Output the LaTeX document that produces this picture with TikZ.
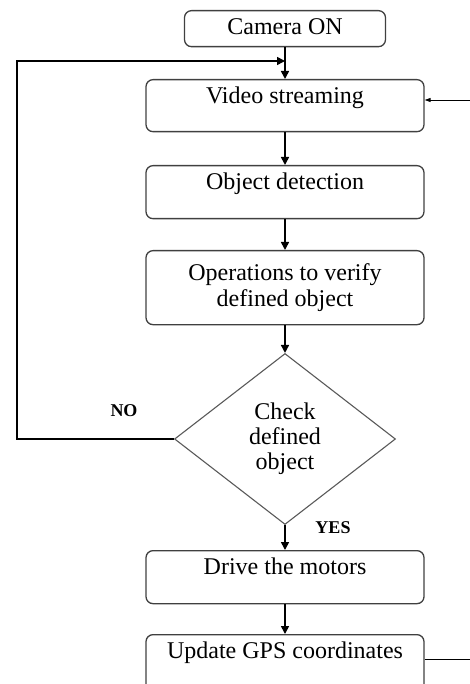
\documentclass[tikz,border=0pt]{standalone}
\usepackage{fontspec}
\setmainfont{Liberation Serif}
\usetikzlibrary{shapes.geometric, arrows.meta, positioning}

\tikzset{
  flowbox/.style={draw=black!75, line width=1.3pt, rounded corners=7pt, minimum width=278pt,
    inner xsep=0pt, inner ysep=3pt, font=\fontsize{24}{26}\selectfont, anchor=north},
  topbox/.style={flowbox, text height=21pt, text depth=#1},
  checkbox/.style={draw=black!65, line width=1.1pt, diamond, minimum width=221pt, minimum height=171pt,
    inner sep=0pt, align=center, font=\fontsize{24}{25}\selectfont},
  flow/.style={line width=1.6pt, -{Triangle[length=8pt,width=8pt]}},
  feed/.style={line width=0.9pt},
  tag/.style={font=\bfseries\fontsize{18}{20}\selectfont}
}

\begin{document}
\begin{tikzpicture}[x=1pt, y=-1pt]
    \clip (0,0) rectangle (470,684);

    % boxes
    \node[topbox=9pt, minimum width=201pt] (camera) at (285,10) {Camera ON};
    \node[topbox=25pt] (video) at (285,79) {Video streaming};
    \node[topbox=26pt] (detect) at (285,165) {Object detection};
    \node[flowbox, minimum height=74pt, align=center] (verify) at (285,250) {Operations to verify\\defined object};
    \node[checkbox] (check) at (285,439) {Check\\defined\\object};
    \node[topbox=26pt] (motors) at (285,550) {Drive the motors};
    \node[topbox=33pt] (gps) at (285,634) {Update GPS coordinates};

    % labels
    \node[tag] (no) at (124,411) {NO};
    \node[tag] (yes) at (333,528) {YES};

    % main flow
    \draw[flow] (camera) -- (video);
    \draw[flow] (video) -- (detect);
    \draw[flow] (detect) -- (verify);
    \draw[flow] (verify) -- (check);
    \draw[flow] (check) -- (motors);
    \draw[flow] (motors) -- (gps);

    % loop back
    \coordinate (loopcorner) at (17,61);
    \coordinate (merge) at (285,61);
    \draw[flow] (check.west) -- (check.west -| loopcorner) -- (loopcorner) -- (merge);

    % side lines
    \coordinate (feedin) at (470,100);
    \coordinate (feedout) at (470,659);
    \draw[feed, -{Triangle[length=6pt,width=4pt]}] (feedin) -- (feedin -| video.east);
    \draw[feed] (gps.east |- feedout) -- (feedout);
\end{tikzpicture}
\end{document}
